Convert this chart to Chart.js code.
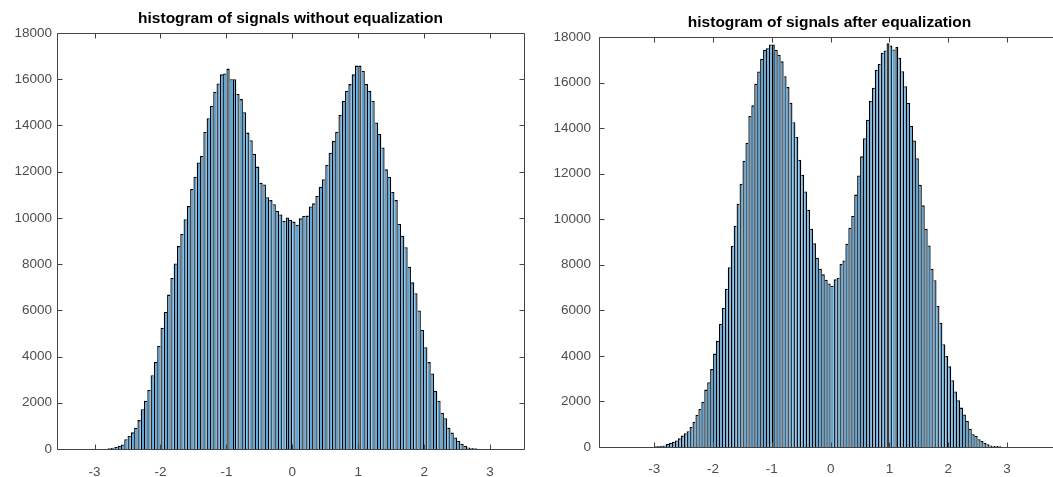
<!DOCTYPE html>
<html>
<head>
<meta charset="utf-8">
<script src="https://cdn.jsdelivr.net/npm/chart.js@4.4.1/dist/chart.umd.min.js"></script>
<style>
  html, body { margin: 0; padding: 0; width: 1053px; height: 477px; overflow: hidden; background: #fff; }
  .panel { position: absolute; top: 0; }
  #leftPanel { left: 0; }
  #rightPanel { left: 540px; }
</style>
</head>
<body>
<div class="panel" id="leftPanel"><canvas id="leftChart" width="540" height="477"></canvas></div>
<div class="panel" id="rightPanel"><canvas id="rightChart" width="525" height="477"></canvas></div>
<script>
// histogram bins are 0.05 wide
const BIN_WIDTH = 0.05;
const leftFirstEdge = -2.8;
const rightFirstEdge = -3.0;

const leftTitle = "histogram of signals without equalization";
const rightTitle = "histogram of signals after equalization";

// counts per bin (-2.8 .. 2.8)
const leftCounts = [
    30, 50, 90, 140, 200, 420, 560, 720, 920, 1250,
    1720, 2090, 2550, 3190, 3760, 4460, 5250, 5930, 6680, 7400,
    8030, 8780, 9300, 9940, 10510, 11250, 11780, 12400, 12680, 13730,
    14310, 14840, 15460, 15820, 16210, 16250, 16460, 16000, 16000, 15360,
    15140, 14570, 13690, 13360, 12780, 12220, 11520, 11450, 10890, 10770,
    10590, 10300, 10150, 9880, 10020, 9910,
    9840, 9700, 9980, 10080, 10100, 10490, 10630, 10950, 11350, 11670,
    12290, 12820, 13340, 13730, 14450, 15060, 15500, 15790, 16210, 16590,
    16590, 16370, 15790, 15500, 15060, 14130, 13630, 13050, 12100, 11780,
    11120, 10770, 9740, 9230, 8730, 7890, 7210, 6740, 5990, 5150,
    4400, 3760, 3270, 2520, 2090, 1570, 1330, 920, 710, 500,
    350, 220, 140, 70, 40, 30
];

// counts per bin (-3.0 .. 2.9)
const rightCounts = [
    30, 40, 50, 70,
    130, 190, 230, 290, 380, 500, 600, 690, 880, 1110,
    1420, 1670, 1990, 2520, 2840, 3420, 4100, 4670, 5400, 6100,
    6950, 7890, 8840, 9710, 10680, 11560, 12570, 13360, 14530, 15000,
    15950, 16490, 17040, 17440, 17510, 17670, 17670,
    17440, 17220, 16930, 16280, 15800, 15110, 14260, 13610, 12610, 11950,
    11220, 10420, 9580, 8950, 8310, 7830, 7580, 7340, 7180,
    7070,
    7360, 7420, 8050, 8190, 8920, 9630, 10140, 11080, 11920, 12760,
    13560, 14370, 15190, 15770, 16560, 16820, 17310, 17410, 17730,
    17630, 17450, 17560, 17090, 16500, 15840, 15100, 14090, 13460, 12680,
    11510, 10610, 9580, 8850, 7830, 7320, 6190, 5460, 4510, 3990,
    3540, 2930, 2440, 2050, 1730, 1430, 1140, 800, 560, 480,
    340, 260, 180, 120, 70, 45, 40, 30
];

const xTickValues = [-3, -2, -1, 0, 1, 2, 3];
const yTickValues = [0, 2000, 4000, 6000, 8000, 10000, 12000, 14000, 16000, 18000];

const BAR_FILL = "#62a6d6";
const BAR_EDGE = "#000000";
const EDGE_W = 1.3;
const AXIS_COLOR = "#444444";
const TICK_COLOR = "#4d4d4d";
const TICK_LEN = 5;

Chart.defaults.font.family = '"Liberation Sans", Arial, Helvetica, sans-serif';

// edge between two bins is drawn by the taller one, so it covers the step
function edgeWidths(counts) {
    return ctx => {
        const i = ctx.dataIndex;
        const v = counts[i];
        const prev = i > 0 ? counts[i - 1] : 0;
        const next = i < counts.length - 1 ? counts[i + 1] : 0;
        return {
            top: EDGE_W,
            bottom: 0,
            left: v >= prev ? EDGE_W : 0,
            right: v > next ? EDGE_W : 0
        };
    };
}

// box around the axes with inward ticks on all four sides
const matlabBox = {
    id: "matlabBox",
    afterDraw(chart) {
        const { ctx, chartArea: a, scales: { x, y } } = chart;
        const left = Math.round(a.left) + 0.5, right = Math.round(a.right) + 0.5;
        const top = Math.round(a.top) + 0.5, bottom = Math.round(a.bottom) + 0.5;
        ctx.save();
        ctx.strokeStyle = AXIS_COLOR;
        ctx.lineWidth = 1;
        ctx.beginPath();
        x.ticks.forEach(t => {
            const px = Math.round(x.getPixelForValue(t.value)) + 0.5;
            ctx.moveTo(px, bottom); ctx.lineTo(px, bottom - TICK_LEN);
            ctx.moveTo(px, top); ctx.lineTo(px, top + TICK_LEN);
        });
        y.ticks.forEach(t => {
            const py = Math.round(y.getPixelForValue(t.value)) + 0.5;
            ctx.moveTo(left, py); ctx.lineTo(left + TICK_LEN, py);
            ctx.moveTo(right, py); ctx.lineTo(right - TICK_LEN, py);
        });
        ctx.rect(left, top, right - left, bottom - top);
        ctx.stroke();
        ctx.restore();
    }
};

function makeHistogram(canvasId, counts, firstEdge, title, lay) {
    const points = counts.map((c, i) => ({ x: firstEdge + BIN_WIDTH * (i + 0.5), y: c }));
    return new Chart(document.getElementById(canvasId), {
        type: "bar",
        data: {
            datasets: [{
                data: points,
                backgroundColor: BAR_FILL,
                borderColor: BAR_EDGE,
                borderWidth: edgeWidths(counts),
                borderSkipped: false,
                barPercentage: 1,
                categoryPercentage: 1,
                inflateAmount: 0
            }]
        },
        options: {
            responsive: false,
            animation: false,
            devicePixelRatio: 1,
            events: [],
            layout: { padding: { left: 0, right: lay.padRight, top: 0, bottom: 0 } },
            plugins: {
                legend: { display: false },
                tooltip: { enabled: false },
                title: {
                    display: true,
                    text: title,
                    fullSize: false,
                    color: "#000",
                    font: { size: 15.5, weight: "bold", lineHeight: "18px" },
                    padding: { top: lay.titleTop, bottom: 5 }
                }
            },
            scales: {
                x: {
                    type: "linear",
                    min: lay.xMin,
                    max: lay.xMax,
                    offset: false,
                    grid: { display: false, drawTicks: false },
                    border: { display: false },
                    afterBuildTicks: s => { s.ticks = xTickValues.map(v => ({ value: v })); },
                    afterFit: s => { s.height = lay.xAxisHeight; },
                    ticks: {
                        padding: lay.xPad,
                        color: TICK_COLOR,
                        font: { size: 13.5 },
                        maxRotation: 0,
                        autoSkip: false,
                        callback: v => String(v)
                    }
                },
                y: {
                    min: 0,
                    max: 18000,
                    grid: { display: false, drawTicks: false },
                    border: { display: false },
                    afterBuildTicks: s => { s.ticks = yTickValues.map(v => ({ value: v })); },
                    afterFit: s => { s.width = lay.yAxisWidth; },
                    ticks: {
                        padding: lay.yPad,
                        color: TICK_COLOR,
                        font: { size: 13.5 },
                        autoSkip: false,
                        callback: v => String(v)
                    }
                }
            }
        },
        plugins: [matlabBox]
    });
}

makeHistogram("leftChart", leftCounts, leftFirstEdge, leftTitle, {
    padRight: 16, titleTop: 10, xAxisHeight: 28, yAxisWidth: 57, yPad: 5, xPad: 15,
    xMin: -3.57, xMax: 3.515
});

makeHistogram("rightChart", rightCounts, rightFirstEdge, rightTitle, {
    padRight: 5, titleTop: 14, xAxisHeight: 30, yAxisWidth: 59, yPad: 8, xPad: 14,
    xMin: -3.94, xMax: 3.9
});
</script>
</body>
</html>
